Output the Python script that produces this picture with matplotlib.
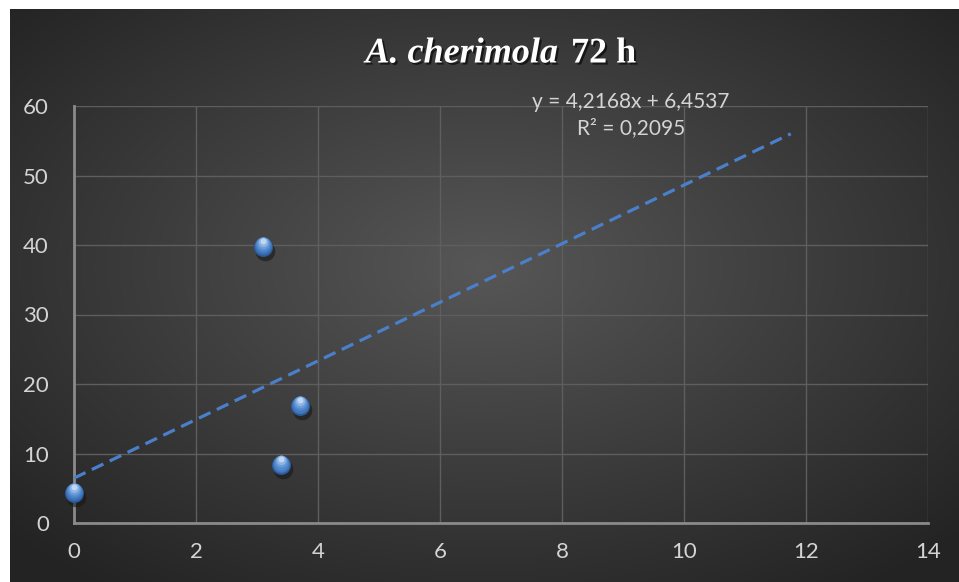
import numpy as np
import matplotlib
matplotlib.use("Agg")
import matplotlib.pyplot as plt
import matplotlib.patheffects as pe

# data
x_vals = [0.0, 3.1, 3.4, 3.7]
y_vals = [4.3, 39.7, 8.3, 16.8]
slope = 4.2168
intercept = 6.4537
r2 = 0.2095
trend_end = 11.75
x_ticks = [0, 2, 4, 6, 8, 10, 12, 14]
y_ticks = [0, 10, 20, 30, 40, 50, 60]

W, H = 959, 582
fig = plt.figure(figsize=(W / 100, H / 100), dpi=100, facecolor="white")

# dark radial gradient panel
bg = fig.add_axes([10 / W, 0, 1 - 10 / W, 1 - 9 / H])
bg.set_axis_off()
yy, xx = np.mgrid[-1:1:300j, -1:1:500j]
d = np.sqrt((xx * 0.95) ** 2 + ((yy + 0.1) * 0.95) ** 2)
d = np.clip(d, 0, 1.3) / 1.3
light = 0.34 - 0.20 * d
bg.imshow(np.dstack([light] * 3), aspect="auto", extent=[0, 1, 0, 1])
bg.set_xlim(0, 1)
bg.set_ylim(0, 1)

ax = fig.add_axes([74 / W, 1 - 523 / H, (928 - 74) / W, (523 - 106) / H])
ax.patch.set_alpha(0)
ax.set_xlim(0, 14)
ax.set_ylim(0, 60)
ax.set_xticks(x_ticks)
ax.set_yticks(y_ticks)
ax.grid(True, color="#5e5e5e", linewidth=1.0)
ax.set_axisbelow(True)
for s in ["top", "right"]:
    ax.spines[s].set_visible(False)
for s in ["left", "bottom"]:
    ax.spines[s].set_color("#8a8a8a")
    ax.spines[s].set_linewidth(2)
ax.tick_params(length=0, colors="#d4d4d4", labelsize=16)
ax.tick_params(axis="x", pad=14)
ax.tick_params(axis="y", pad=18)
for lab in ax.get_xticklabels() + ax.get_yticklabels():
    lab.set_family(["Lato", "DejaVu Sans"])

# trendline
tx = np.array([0, trend_end])
ax.plot(tx, slope * tx + intercept, color="#4a7fcb", linewidth=2.3,
        dashes=(4, 2.2), zorder=3, solid_capstyle="butt")

# sphere markers: shadow, then layers going lighter toward the top
xs = np.array(x_vals)
ys = np.array(y_vals)
ax.scatter(xs + 0.03, ys - 0.6, s=200, color="#151515", alpha=0.55, zorder=4,
           linewidths=0, clip_on=False)
layers = [(185, 0.0, "#2c5a98"), (160, 0.12, "#386bb0"), (135, 0.25, "#437abf"),
          (105, 0.4, "#5289cc"), (75, 0.55, "#6a9bd8"), (45, 0.72, "#8db4e4"),
          (18, 0.88, "#c0d7f2")]
for k, (sz, dy, col) in enumerate(layers):
    ax.scatter(xs, ys + dy, s=sz, color=col, linewidths=0, zorder=5 + k,
               clip_on=False)

# equation
eq = "y = 4,2168x + 6,4537\nR² = 0,2095"
fig.text(631 / W, 1 - 115 / H, eq, ha="center", va="center", color="#d4d4d4",
         fontsize=15, family=["Lato", "DejaVu Sans"], linespacing=1.4)

# title
shadow = [pe.withSimplePatchShadow(offset=(1.5, -1.5), shadow_rgbFace="black", alpha=0.6)]
fig.text(558 / W, 1 - 54 / H, "A. cherimola", ha="right", va="center",
         color="white", fontsize=26, style="italic", weight="bold",
         family="Liberation Serif", path_effects=shadow)
fig.text(571 / W, 1 - 54 / H, "72 h", ha="left", va="center", color="white",
         fontsize=26, weight="bold", family="Liberation Serif", path_effects=shadow)

fig.savefig("out.png", dpi=100, facecolor="white")
